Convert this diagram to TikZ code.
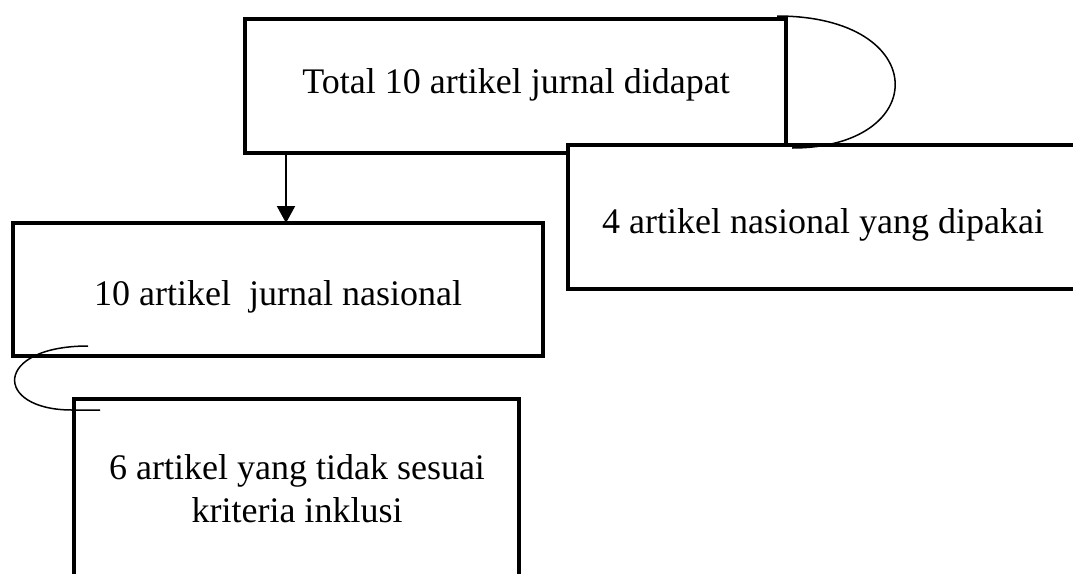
\documentclass[tikz,border=0pt]{standalone}
\usepackage{fontspec}
\setmainfont{Liberation Serif}
\usetikzlibrary{arrows.meta}
\begin{document}
\begin{tikzpicture}[x=1pt,y=-1pt,
  box/.style={draw,line width=4pt,fill=white,inner sep=0pt,outer sep=0pt,rectangle},
  lbl/.style={font=\fontsize{36}{43}\selectfont,anchor=base,inner sep=0pt},
  conn/.style={line width=1.5pt},
  arr/.style={line width=2pt,-{Triangle[width=18pt,length=17pt]}}]
\useasboundingbox (0,0) rectangle (1073,573);
\clip (0,0) rectangle (1073,573);
\fill[white] (0,0) rectangle (1073,573);
\node[box,minimum width=541pt,minimum height=134pt] (b1) at (515.5,86) {};
\node[box,minimum width=510pt,minimum height=144pt] (b2) at (823,217) {};
\node[box,minimum width=530pt,minimum height=133pt] (b3) at (278,289.5) {};
\node[box,minimum width=445pt,minimum height=241pt] (b4) at (296.5,519.5) {};
\node[lbl] (t1) at (516,93) {Total 10 artikel jurnal didapat};
\node[lbl] (t2) at (823,233) {4 artikel nasional yang dipakai};
\node[lbl] (t3) at (278,305) {10 artikel\ \ jurnal nasional};
\node[lbl] (t4a) at (297,479) {6 artikel yang tidak sesuai};
\node[lbl] (t4b) at (297,522) {kriteria inklusi};
\draw[arr] ([xshift=41pt]b1.south west) -- ([xshift=273pt]b3.north west);
\coordinate (c1a) at (777,16);
\coordinate (c1b) at (792,148);
\draw[conn] (c1a) .. controls (932,16) and (932,148) .. (c1b);
\coordinate (c2a) at (88,346);
\coordinate (c2b) at (72,410);
\coordinate (c2c) at (100,410);
\draw[conn] (c2a) .. controls (-7,346) and (-7,410) .. (c2b) -- (c2c);
\end{tikzpicture}
\end{document}
